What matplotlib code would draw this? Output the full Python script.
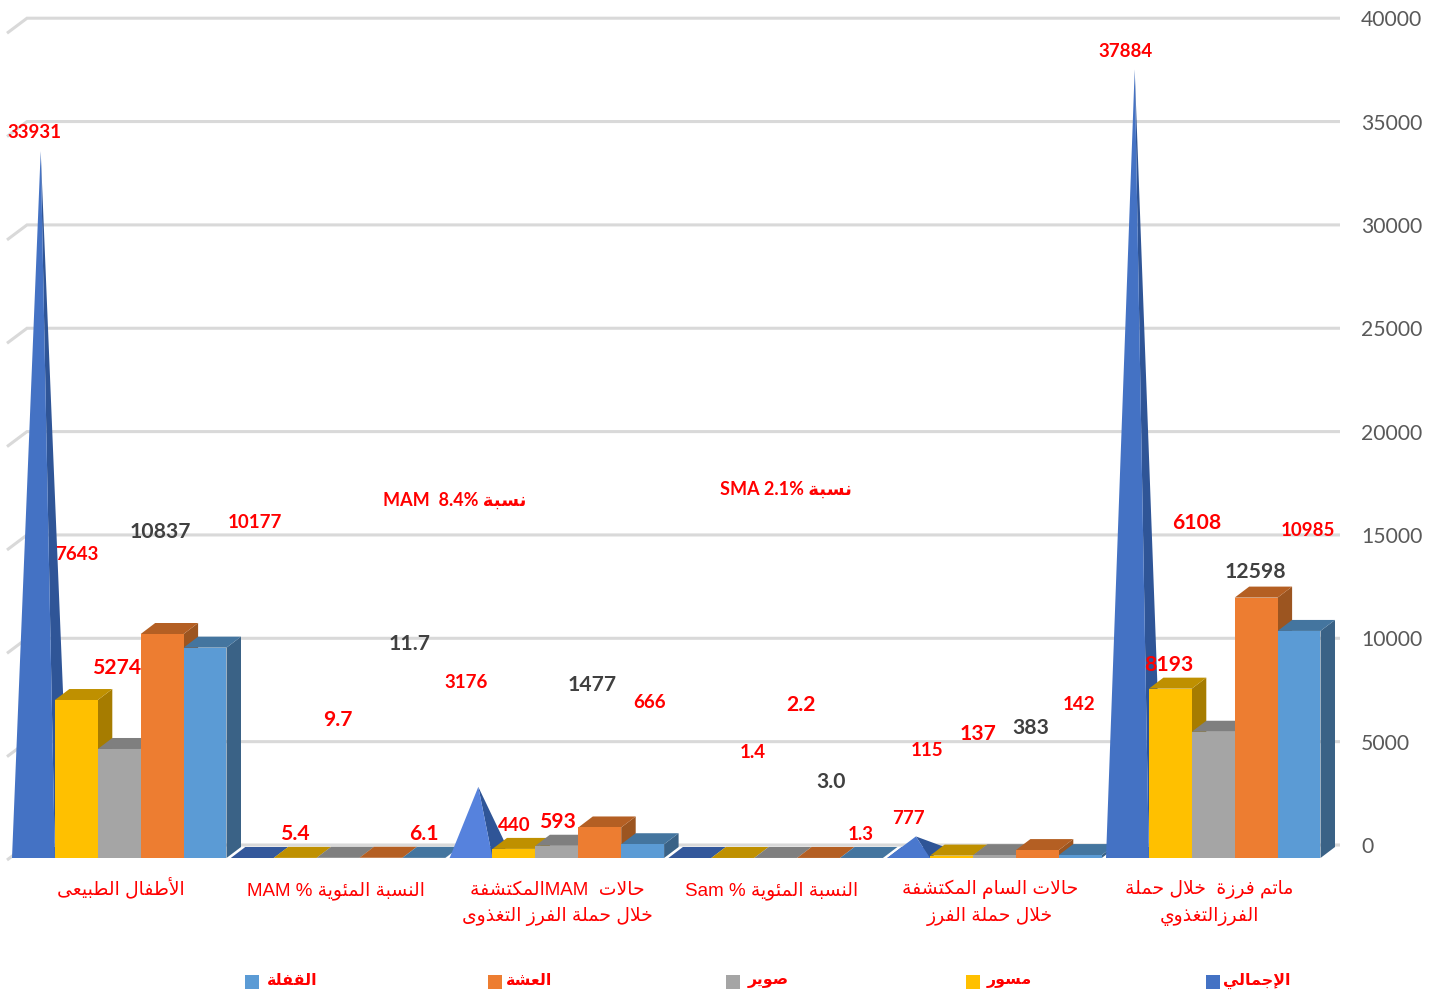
import re
import matplotlib
matplotlib.use('Agg')
import matplotlib.pyplot as plt

# values
categories = ['الأطفال الطبيعى', 'النسبة المئوية % MAM',
              'حالات  MAMالمكتشفة\nخلال حملة الفرز التغذوى', 'النسبة المئوية % Sam',
              'حالات السام المكتشفة\nخلال حملة الفرز', 'ماتم فرزة  خلال حملة\nالفرزالتغذوي']
total = [33931, 8.4, 3176, 2.1, 777, 37884]
musawar = [7643, 5.4, 440, 1.4, 115, 8193]
sowair = [5274, 9.7, 593, 2.2, 137, 6108]
asha = [10837, 11.7, 1477, 3.0, 383, 12598]
qafla = [10177, 6.1, 666, 1.3, 142, 10985]
yticks = [0, 5000, 10000, 15000, 20000, 25000, 30000, 35000, 40000]
legend_labels = ['القفلة', 'العشة', 'صوير', 'مسور', 'الإجمالي']

# label spots were placed by hand in the original, (px x, px y) for each series
total_pos = [(34, 133), (455, 500), (466, 682), (786, 489), (908, 818), (1126, 52)]
musawar_pos = [(77, 554), (295, 834), (514, 825), (753, 753), (927, 750), (1169, 665)]
sowair_pos = [(117, 668), (338, 720), (557, 822), (801, 705), (978, 734), (1197, 523)]
asha_pos = [(160, 532), (410, 644), (592, 685), (831, 782), (1031, 728), (1255, 572)]
qafla_pos = [(255, 522), (424, 834), (650, 703), (861, 834), (1079, 704), (1308, 531)]
cat_pos = [(121, 888), (336, 891), (557, 904), (772, 891), (990, 903), (1209, 903)]
legend_x = [245, 488, 726, 966, 1206]
legend_text_x = [292, 529, 768, 1009, 1257]

front = ['#4472C4', '#FFC000', '#A5A5A5', '#ED7D31', '#5B9BD5']
side = ['#2F5597', '#A67C00', '#6E6E6E', '#9C5520', '#3A6286']
top = ['#33589B', '#BF9000', '#7F7F7F', '#B45F23', '#44759F']
pyramid_front = ['#4472C4', '#4472C4', '#5682DD', '#4472C4', '#4A78CE', '#4472C4']
legend_cols = ['#5B9BD5', '#ED7D31', '#A5A5A5', '#FFC000', '#4472C4']

# no shaping engine in matplotlib, so pick the presentation forms by hand
FORMS = {
    'ا': (0xFE8D, 0xFE8E), 'أ': (0xFE83, 0xFE84), 'إ': (0xFE87, 0xFE88),
    'ة': (0xFE93, 0xFE94), 'د': (0xFEA9, 0xFEAA), 'ذ': (0xFEAB, 0xFEAC),
    'ر': (0xFEAD, 0xFEAE), 'ز': (0xFEAF, 0xFEB0), 'و': (0xFEED, 0xFEEE),
    'ى': (0xFEEF, 0xFEF0),
    '\ufefb': (0xFEFB, 0xFEFC), '\ufef7': (0xFEF7, 0xFEF8), '\ufef9': (0xFEF9, 0xFEFA),
    'ب': (0xFE8F, 0xFE90, 0xFE91, 0xFE92), 'ت': (0xFE95, 0xFE96, 0xFE97, 0xFE98),
    'ج': (0xFE9D, 0xFE9E, 0xFE9F, 0xFEA0), 'ح': (0xFEA1, 0xFEA2, 0xFEA3, 0xFEA4),
    'خ': (0xFEA5, 0xFEA6, 0xFEA7, 0xFEA8), 'س': (0xFEB1, 0xFEB2, 0xFEB3, 0xFEB4),
    'ش': (0xFEB5, 0xFEB6, 0xFEB7, 0xFEB8), 'ص': (0xFEB9, 0xFEBA, 0xFEBB, 0xFEBC),
    'ط': (0xFEC1, 0xFEC2, 0xFEC3, 0xFEC4), 'ع': (0xFEC9, 0xFECA, 0xFECB, 0xFECC),
    'غ': (0xFECD, 0xFECE, 0xFECF, 0xFED0), 'ف': (0xFED1, 0xFED2, 0xFED3, 0xFED4),
    'ق': (0xFED5, 0xFED6, 0xFED7, 0xFED8), 'ك': (0xFED9, 0xFEDA, 0xFEDB, 0xFEDC),
    'ل': (0xFEDD, 0xFEDE, 0xFEDF, 0xFEE0), 'م': (0xFEE1, 0xFEE2, 0xFEE3, 0xFEE4),
    'ن': (0xFEE5, 0xFEE6, 0xFEE7, 0xFEE8), 'ه': (0xFEE9, 0xFEEA, 0xFEEB, 0xFEEC),
    'ي': (0xFEF1, 0xFEF2, 0xFEF3, 0xFEF4), 'ئ': (0xFE89, 0xFE8A, 0xFE8B, 0xFE8C),
}


def shape_run(s):
    s = s.replace('لا', '\ufefb').replace('لأ', '\ufef7').replace('لإ', '\ufef9')
    out = []
    for i, c in enumerate(s):
        f = FORMS[c]
        prev_j = i > 0 and len(FORMS[s[i - 1]]) == 4
        next_j = i < len(s) - 1
        if len(f) == 2:
            out.append(chr(f[1] if prev_j else f[0]))
        elif prev_j and next_j:
            out.append(chr(f[3]))
        elif prev_j:
            out.append(chr(f[1]))
        elif next_j:
            out.append(chr(f[2]))
        else:
            out.append(chr(f[0]))
    return ''.join(reversed(out))


def ar(text):
    lines = []
    for line in text.split('\n'):
        runs = re.findall(r'[\u0600-\u06ff]+|\s+|[^\u0600-\u06ff\s]+', line)
        runs = [shape_run(r) if re.match(r'[\u0600-\u06ff]', r) else r for r in runs]
        lines.append(''.join(reversed(runs)))
    return '\n'.join(lines)


W, H = 1437, 996
BASE = 858.0      # pixel row of the front floor edge
X0 = 12.0         # pixel column of the first bar
GROUP = 218.8     # pixels per category
BAR = 42.9 / GROUP
PX_V = 0.02067    # pixels per unit of value
DX = 14.5 / GROUP
DY = 11.0 / PX_V

fig = plt.figure(figsize=(W / 100, H / 100), dpi=100)
ax = fig.add_axes([0, 0, 1, 1])
ax.set_xlim(-X0 / GROUP, (W - X0) / GROUP)
ax.set_ylim(-(H - BASE) / PX_V, BASE / PX_V)
ax.axis('off')


def px(x, y):
    return (x - X0) / GROUP, (BASE - y) / PX_V


# back wall gridlines with the short diagonal on the left
for v in yticks:
    y_back = px(0, 845)[1] + v
    y_front = px(0, 860)[1] + v
    x_l = px(7, 0)[0]
    x_b = px(27, 0)[0]
    x_r = px(1340, 0)[0]
    ax.plot([x_l, x_b, x_r], [y_front, y_back, y_back], color='#D9D9D9', lw=2.2,
            solid_capstyle='butt', solid_joinstyle='miter', zorder=1)
    tx, ty = px(1361, 0)[0], px(0, 847)[1] + v
    ax.text(tx, ty, str(v), color='#595959', fontsize=15.2, family='Lato',
            ha='left', va='center', zorder=5)


def pyramid(g, x, v):
    ax.fill([x, x + BAR, x + BAR + DX, x + DX], [0, 0, DY, DY], color=top[0], lw=0, zorder=2)
    if v < 100:
        # the percent rows are too low to rise off the floor
        return
    apex = (x + BAR / 2 + DX / 2, v + DY / 2)
    ax.fill([x + BAR, x + BAR + DX, apex[0]], [0, DY, apex[1]], color=side[0], lw=0, zorder=2)
    ax.fill([x, x + BAR, apex[0]], [0, 0, apex[1]], color=pyramid_front[g], lw=0, zorder=2)


def box(x, v, k):
    ax.fill([x + BAR, x + BAR + DX, x + BAR + DX, x + BAR], [0, DY, v + DY, v],
            color=side[k], lw=0, zorder=2)
    ax.fill([x, x + BAR, x + BAR + DX, x + DX], [v, v, v + DY, v + DY],
            color=top[k], lw=0, zorder=2)
    ax.fill([x, x + BAR, x + BAR, x], [0, 0, v, v], color=front[k], lw=0, zorder=2)


series = [total, musawar, sowair, asha, qafla]
for g in range(len(categories)):
    pyramid(g, g, total[g])
    for k in range(1, 5):
        box(g + k * BAR, series[k][g], k)

# data labels, dark ones are the asha series
big = {5274, 9.7, 11.7, 593, 2.2, 3.0, 137, 383, 6108, 12598, 1477, 10837, 8193, 5.4, 6.1}
positions = [total_pos, musawar_pos, sowair_pos, asha_pos, qafla_pos]
for k, vals in enumerate(series):
    for g, v in enumerate(vals):
        x, y = px(*positions[k][g])
        if k == 0 and g == 1:
            s = ar('نسبة 8.4%  MAM')
        elif k == 0 and g == 3:
            s = ar('نسبة 2.1% SMA')
        elif isinstance(v, float):
            s = '%.1f' % v
        else:
            s = str(v)
        col = '#404040' if k == 3 else '#FF0000'
        size = 15.2 if v in big else 13.5
        if k == 0 and g in (1, 3):
            size = 13
        ax.text(x, y, s, color=col, fontsize=size, fontweight='bold',
                family=['Lato', 'DejaVu Sans'], ha='center', va='center', zorder=6)

for c, (x, y) in zip(categories, cat_pos):
    x, y = px(x, y)
    ax.text(x, y, ar(c), color='#FF0000', fontsize=13.5, family=['Liberation Sans', 'DejaVu Sans'],
            ha='center', va='center', linespacing=1.6, zorder=6)

# legend
for i, lab in enumerate(legend_labels):
    x1, y1 = px(legend_x[i], 989)
    x2, y2 = px(legend_x[i] + 14, 975)
    ax.fill([x1, x2, x2, x1], [y1, y1, y2, y2], color=legend_cols[i], lw=0, zorder=6)
    tx, ty = px(legend_text_x[i], 981)
    ax.text(tx, ty, ar(lab), color='#FF0000', fontsize=11.4, fontweight='bold',
            family=['Lato', 'DejaVu Sans'], ha='center', va='center', zorder=6)

fig.savefig('out.png', dpi=100, facecolor='white')
